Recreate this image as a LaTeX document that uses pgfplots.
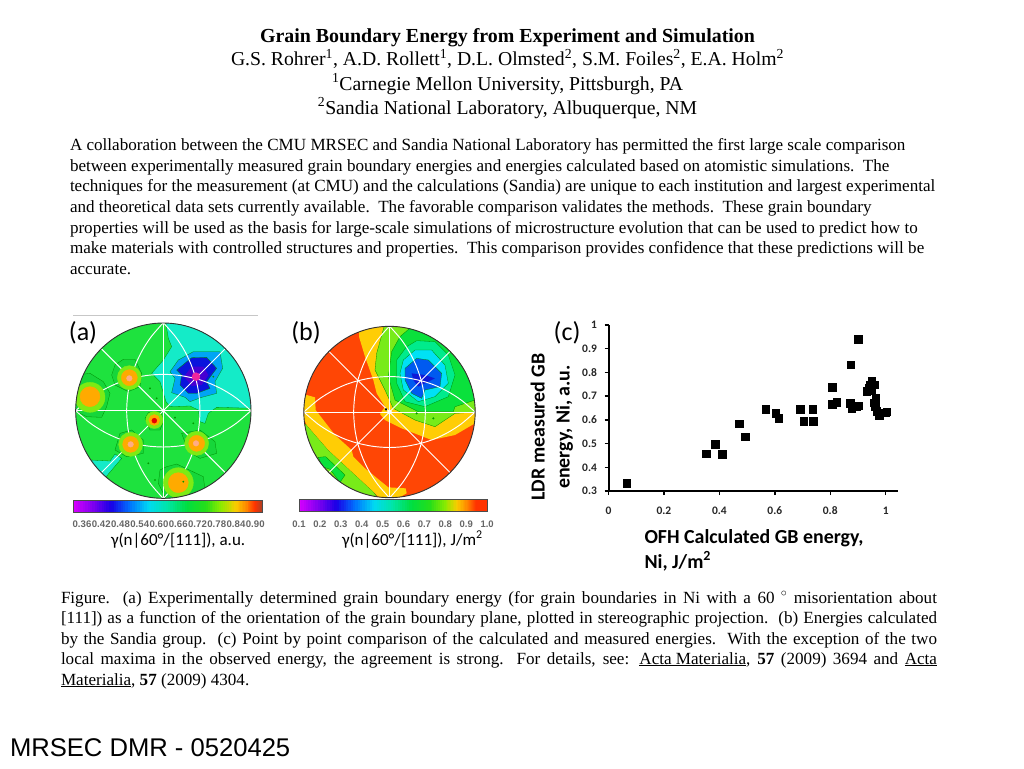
\documentclass[border=0pt]{standalone}
\usepackage{fontspec}
\usepackage{pgfplots}
\pgfplotsset{compat=1.18}
\setmainfont{Liberation Serif}
\newfontfamily\calf{Carlito}
\newfontfamily\arf{Liberation Sans}
\newcommand\fs[1]{\fontsize{#1pt}{#1pt}\selectfont}
\definecolor{gA}{RGB}{30,226,62}
\definecolor{gAd}{RGB}{22,214,58}
\definecolor{cyA}{RGB}{20,235,200}
\definecolor{blA}{RGB}{0,165,245}
\definecolor{dbA}{RGB}{10,20,220}
\definecolor{puA}{RGB}{70,0,210}
\definecolor{ygA}{RGB}{125,235,20}
\definecolor{yeA}{RGB}{225,235,0}
\definecolor{orA}{RGB}{255,170,0}
\definecolor{reB}{RGB}{255,70,5}
\definecolor{yeB}{RGB}{255,205,5}
\definecolor{ygB}{RGB}{120,235,25}
\definecolor{grB}{RGB}{10,225,60}
\definecolor{aqB}{RGB}{0,235,140}
\definecolor{cyB}{RGB}{0,225,245}
\definecolor{blB}{RGB}{0,90,240}
\definecolor{dbB}{RGB}{15,25,215}
% colourbar stops
\definecolor{s0}{RGB}{217,0,255}
\definecolor{s1}{RGB}{130,0,240}
\definecolor{s2}{RGB}{25,0,230}
\definecolor{s3}{RGB}{0,115,255}
\definecolor{s4}{RGB}{0,217,242}
\definecolor{s5}{RGB}{0,230,165}
\definecolor{s6}{RGB}{0,222,64}
\definecolor{s7}{RGB}{38,222,25}
\definecolor{s8}{RGB}{140,235,0}
\definecolor{s9}{RGB}{250,204,0}
\definecolor{s10}{RGB}{255,128,0}
\definecolor{s11}{RGB}{255,51,0}
\definecolor{s12}{RGB}{166,64,38}
\newcommand\barsegs[5]{% x0, width, ytop, ybottom, list
 \foreach \ca/\cb/\xa/\xb in {#5}{
  \foreach \k in {0,...,7}{
   \pgfmathsetmacro\pct{100-100*(\k+.5)/8}
   \pgfmathsetmacro\xl{#1+#2*(\xa+(\xb-\xa)*\k/8)}
   \pgfmathsetmacro\xr{#1+#2*(\xa+(\xb-\xa)*(\k+1)/8)+.25}
   \fill[\ca!\pct!\cb] (\xl,#3) rectangle (\xr,#4);
  }}}
\pgfplotsset{panel/.style={scale only axis,width=220pt,height=250pt,xmin=0,xmax=660,ymin=0,ymax=750,y dir=reverse,axis lines=none,clip=false,anchor=south west},
 cont/.style={draw=black!45!green,line width=.3pt},
 wl/.style={white,line width=.95pt},
 spot/.style={only marks,mark=*,color=#1}}
\begin{document}
\begin{tikzpicture}
\path (0pt,0pt) rectangle (1024pt,-768pt);
% ---------- text
\begin{scope}[x=1pt,y=-1pt,every node/.style={inner sep=0pt,outer sep=0pt}]
\node[anchor=base] at (507.5,42) {\fs{19.9}\bfseries Grain Boundary Energy from Experiment and Simulation};
\node[anchor=base] at (507.5,66) {\fs{19.7}G.S. Rohrer\textsuperscript{1}, A.D. Rollett\textsuperscript{1}, D.L. Olmsted\textsuperscript{2}, S.M. Foiles\textsuperscript{2}, E.A. Holm\textsuperscript{2}};
\node[anchor=base] at (507.5,90) {\fs{19.7}\textsuperscript{1}Carnegie Mellon University, Pittsburgh, PA};
\node[anchor=base] at (507.5,114) {\fs{19.7}\textsuperscript{2}Sandia National Laboratory, Albuquerque, NM};
\fs{17.08}
\node[anchor=base west] at (70,150) {A collaboration between the CMU MRSEC and Sandia National Laboratory has permitted the first large scale comparison};
\node[anchor=base west] at (70,171) {between experimentally measured grain boundary energies and energies calculated based on atomistic simulations.\ \ The};
\node[anchor=base west] at (70,191) {techniques for the measurement (at CMU) and the calculations (Sandia) are unique to each institution and largest experimental};
\node[anchor=base west] at (70,212) {and theoretical data sets currently available.\ \ The favorable comparison validates the methods.\ \ These grain boundary};
\node[anchor=base west] at (70,233) {properties will be used as the basis for large-scale simulations of microstructure evolution that can be used to predict how to};
\node[anchor=base west] at (70,253) {make materials with controlled structures and properties.\ \ This comparison provides confidence that these predictions will be};
\node[anchor=base west] at (70,274) {accurate.};
\node[anchor=base west] at (61,603) {\makebox[876pt][s]{Figure.\ \ (a) Experimentally determined grain boundary energy (for grain boundaries in Ni with a 60 $^\circ$ misorientation about}};
\node[anchor=base west] at (61,623) {\makebox[876pt][s]{[111]) as a function of the orientation of the grain boundary plane, plotted in stereographic projection.\ \ (b) Energies calculated}};
\node[anchor=base west] at (61,644) {\makebox[876pt][s]{by the Sandia group.\ \ (c) Point by point comparison of the calculated and measured energies.\ \ With the exception of the two}};
\node[anchor=base west] at (61,664) {\makebox[876pt][s]{local maxima in the observed energy, the agreement is strong.\ \ For details, see: \underline{Acta Materialia}, \textbf{57} (2009) 3694 and \underline{Acta}}};
\node[anchor=base west] at (61,685) {\underline{Materialia}, \textbf{57} (2009) 4304.};
\node[anchor=base west] at (10,756) {\arf\fs{25.6}MRSEC DMR - 0520425};
\node[anchor=base] at (83,340) {\calf\fs{26}(a)};
\node[anchor=base] at (306,340) {\calf\fs{26}(b)};
\node[anchor=base] at (567,340) {\calf\fs{26}(c)};
\node[anchor=base west] at (111,545) {\calf\fs{17}γ(n|60°/[111]), a.u.};
\node[anchor=base west] at (342,545) {\calf\fs{17}γ(n|60°/[111]), J/m\textsuperscript{2}};
\node[anchor=base west] at (644.5,543) {\calf\fs{19.9}\bfseries OFH Calculated GB energy,};
\node[anchor=base west] at (644.5,568) {\calf\fs{19.9}\bfseries Ni, J/m\textsuperscript{2}};
\node[rotate=90,anchor=base] at (544.5,427) {\calf\fs{19.9}\bfseries LDR measured GB};
\node[rotate=90,anchor=base] at (569.5,427) {\calf\fs{19.9}\bfseries energy, Ni, a.u.};
\draw[black!22,line width=.8pt] (73,315.5) -- (258,315.5);
% colourbars
\barsegs{73.3}{189.4}{500}{512.3}{s0/s1/0/.1,s1/s2/.1/.2,s2/s3/.2/.3,s3/s4/.3/.4,s4/s5/.4/.5,s5/s6/.5/.6,s6/s7/.6/.7,s7/s8/.7/.78,s8/s9/.78/.86,s9/s10/.86/.92,s10/s11/.92/.96,s11/s12/.96/1}
\draw[black!70,line width=.5pt] (73.3,500) rectangle (262.7,512.3);
\barsegs{299}{188}{499.3}{511.7}{s0/s1/0/.1,s1/s2/.1/.2,s2/s3/.2/.3,s3/s4/.3/.4,s4/s5/.4/.5,s5/s6/.5/.6,s6/s7/.6/.7,s7/s8/.7/.78,s8/s9/.78/.84,s9/s10/.84/.9,s10/s11/.9/.94,s11/s11/.94/1}
\draw[black!70,line width=.5pt] (299,499.3) rectangle (487,511.7);
\foreach \lb [count=\ii from 0] in {0.36,0.42,0.48,0.54,0.60,0.66,0.72,0.78,0.84,0.90}{
 \node[anchor=base,text=black!60] at (82+\ii*19.25,527.5) {\arf\fs{9.6}\bfseries \lb};}
\foreach \lb [count=\ii from 0] in {0.1,0.2,0.3,0.4,0.5,0.6,0.7,0.8,0.9,1.0}{
 \node[anchor=base,text=black!60] at (299+\ii*20.9,527) {\arf\fs{9.5}\bfseries \lb};}
\end{scope}
% ---------- panel (a)
\begin{scope}
\clip (163.33pt,-410.67pt) circle [radius=87.67pt];
\begin{axis}[panel,at={(60pt,-560pt)}]
\addplot[fill=gA,draw=none] coordinates {(0,0)(660,0)(660,620)(0,620)} -- cycle;
\addplot[fill=cyA,cont] coordinates {(316,30)(325,85)(335,110)(310,150)(275,190)(300,215)(318,275)(330,290)(390,288)(415,300)(420,335)(435,340)(445,310)(470,292)(590,295)(600,20)(330,20)} -- cycle;
\addplot[fill=cyA,cont] coordinates {(90,450)(150,453)(165,432)(185,445)(130,510)(90,500)} -- cycle;
\addplot[fill=blA,cont] coordinates {(400,125)(480,125)(488,175)(465,215)(470,250)(425,262)(390,275)(375,262)(335,248)(345,205)(330,185)(355,150)} -- cycle;
\addplot[fill=dbA,cont] coordinates {(395,143)(440,142)(470,175)(440,215)(450,235)(410,250)(385,250)(360,225)(365,195)(350,180)} -- cycle;
\addplot[fill=puA,draw=none] coordinates {(395,170)(430,170)(445,195)(425,225)(395,228)(372,200)} -- cycle;
\addplot[spot=magenta!85!white,mark size=4pt] coordinates {(408,200)};
% halos
\addplot[fill=gAd,cont] coordinates {(50,195)(90,190)(130,215)(150,250)(140,290)(125,322)(80,320)(40,300)(40,240)} -- cycle;
\addplot[fill=gAd,cont] coordinates {(165,165)(190,148)(225,148)(245,190)(240,230)(205,245)(165,225)(155,195)} -- cycle;
\addplot[fill=gAd,cont] coordinates {(320,470)(350,462)(430,500)(435,540)(400,570)(320,570)(295,520)(300,480)} -- cycle;
\addplot[fill=gAd,cont] coordinates {(180,370)(215,360)(250,390)(250,430)(200,440)(165,420)} -- cycle;
\addplot[fill=gAd,cont] coordinates {(365,370)(420,360)(465,395)(470,430)(420,445)(385,425)} -- cycle;
\addplot[fill=gAd,cont] coordinates {(255,325)(265,308)(300,305)(312,330)(300,360)(270,360)} -- cycle;
% hot spots
\addplot[spot=ygA,mark size=12pt] coordinates {(208,203)(212,403)(410,400)};
\addplot[spot=ygA,mark size=15pt] coordinates {(90,262)(355,518)};
\addplot[spot=ygA,mark size=8.5pt] coordinates {(283,330)};
\addplot[spot=orA,mark size=8pt] coordinates {(208,203)(212,403)(410,400)};
\addplot[spot=orA,mark size=10pt] coordinates {(90,260)(355,518)};
\addplot[spot=orA,mark size=5.5pt] coordinates {(283,330)};
\addplot[spot=red!90!black,mark size=2.5pt] coordinates {(283,332)};
\addplot[spot=orange!30!pink,mark size=2.8pt] coordinates {(208,205)(212,403)(408,400)};
% small dark specks
\addplot[spot=black!40!green,mark size=.7pt] coordinates {(270,235)(290,265)(345,323)(370,515)(265,460)(285,510)(400,340)(460,200)};
% white grid
\addplot[wl] coordinates {(310,38)(310,566)};
\addplot[wl] coordinates {(47,302)(573,302)};
\addplot[wl] coordinates {(124,116)(496,488)};
\addplot[wl] coordinates {(496,116)(124,488)};
\addplot[wl,smooth] coordinates {(47,302)(90,265.1)(130,239.5)(170,220.4)(210,206.7)(260,196.4)(310,193)(360,196.4)(410,206.7)(450,220.4)(490,239.5)(530,265.1)(573,302)};
\addplot[wl,smooth] coordinates {(47,302)(90,338.9)(130,364.5)(170,383.6)(210,397.3)(260,407.6)(310,411)(360,407.6)(410,397.3)(450,383.6)(490,364.5)(530,338.9)(573,302)};
\addplot[wl,smooth] coordinates {(310,38)(273.6,80)(247.6,120)(228.2,160)(213.4,203)(203.7,250)(200,302)(203.7,354)(213.4,401)(228.2,444)(247.6,484)(273.6,524)(310,566)};
\addplot[wl,smooth] coordinates {(310,38)(346.4,80)(372.4,120)(391.8,160)(406.6,203)(416.3,250)(420,302)(416.3,354)(406.6,401)(391.8,444)(372.4,484)(346.4,524)(310,566)};
\end{axis}
\end{scope}
\draw[black!80,line width=.9pt] (163.33pt,-410.67pt) circle [radius=87.67pt];
% ---------- panel (b)
\begin{scope}
\clip (389.5pt,-412pt) circle [radius=85.67pt];
\begin{axis}[panel,at={(285pt,-560pt)}]
\addplot[fill=reB,draw=none] coordinates {(0,0)(660,0)(660,620)(0,620)} -- cycle;
% yellow upper band
\addplot[fill=yeB,draw=none] coordinates {(222,80)(222,40)(600,40)(600,310)(570,340)(510,375)(440,390)(350,355)(300,330)(285,312)(300,290)(275,250)(265,210)(240,140)} -- cycle;
\addplot[fill=ygB,cont] coordinates {(300,40)(275,130)(270,180)(300,240)(325,295)(390,330)(450,350)(510,310)(600,305)(600,40)} -- cycle;
\addplot[fill=grB,cont] coordinates {(380,50)(345,80)(320,125)(310,200)(330,270)(400,305)(505,305)(510,290)(600,260)(600,40)} -- cycle;
\addplot[fill=aqB,cont] coordinates {(395,92)(450,95)(490,135)(510,195)(490,260)(420,290)(360,275)(335,220)(335,150)(365,110)} -- cycle;
\addplot[fill=cyB,cont] coordinates {(390,120)(440,120)(480,165)(490,220)(450,260)(400,275)(355,240)(345,190)(355,150)} -- cycle;
\addplot[fill=blB,cont] coordinates {(395,145)(430,150)(470,190)(465,230)(420,240)(410,265)(380,250)(360,210)(360,175)} -- cycle;
\addplot[fill=dbB,draw=none] coordinates {(380,190)(420,195)(450,205)(420,220)(400,230)(385,210)} -- cycle;
% lower-left bands
\addplot[fill=ygB,cont] coordinates {(40,330)(65,345)(130,420)(265,545)(290,580)(40,580)} -- cycle;
\addplot[fill=grB,cont] coordinates {(100,442)(122,440)(180,495)(165,517)(135,478)(112,470)} -- cycle;
\addplot[fill=yeB,draw=none] coordinates {(50,270)(65,255)(90,262)(92,300)(150,375)(200,420)(205,440)(240,475)(310,532)(362,535)(365,550)(320,575)(295,575)(265,545)(130,420)(65,345)(50,310)} -- cycle;
\addplot[spot=black!40!green,mark size=.8pt] coordinates {(395,310)(445,325)};
% white grid
\addplot[wl] coordinates {(313.5,47)(313.5,565)};
\addplot[wl] coordinates {(56,306)(571,306)};
\addplot[wl] coordinates {(131.5,124)(495.5,488)};
\addplot[wl] coordinates {(495.5,124)(131.5,488)};
\addplot[wl,smooth] coordinates {(56.5,306)(98.6,270)(137.6,245)(176.7,226)(215.8,213)(264.6,203)(313.5,199.5)(362.4,203)(411.2,213)(450.3,226)(489.4,245)(528.4,270)(570.5,306)};
\addplot[wl,smooth] coordinates {(56.5,306)(98.6,342)(137.6,367)(176.7,386)(215.8,399)(264.6,409)(313.5,412.5)(362.4,409)(411.2,399)(450.3,386)(489.4,367)(528.4,342)(570.5,306)};
\addplot[wl,smooth] coordinates {(313.5,48)(278,89)(252.5,128)(233.6,167)(219,209)(209.6,255)(206,306)(209.6,357)(219,403)(233.6,445)(252.5,484)(278,523)(313.5,564)};
\addplot[wl,smooth] coordinates {(313.5,48)(349,89)(374.5,128)(393.4,167)(408,209)(417.4,255)(421,306)(417.4,357)(408,403)(393.4,445)(374.5,484)(349,523)(313.5,564)};
\addplot[spot=white,mark size=2pt] coordinates {(313.5,306)};
\addplot[spot=black,mark size=.9pt] coordinates {(303,298)};
\end{axis}
\end{scope}
\draw[black!80,line width=.9pt] (389.5pt,-412pt) circle [radius=85.67pt];
% ---------- panel (c)
\begin{axis}[at={(608.5pt,-491pt)},anchor=south west,scale only axis,width=289.5pt,height=166pt,
 xmin=0,xmax=1.0445,ymin=0.3,ymax=1,
 axis x line=bottom,axis y line=left,axis line style={-,black,line width=2pt},
 xtick={0,0.2,0.4,0.6,0.8,1},ytick={0.3,0.4,0.5,0.6,0.7,0.8,0.9,1},
 xticklabels={0,0.2,0.4,0.6,0.8,1},yticklabels={0.3,0.4,0.5,0.6,0.7,0.8,0.9,1},
 tick style={black,line width=1.4pt},major tick length=4pt,
 tick align=outside,
 xticklabel style={yshift=-8pt,font=\calf\fs{11.5}\bfseries,text=black!85,text height=7.5pt,text depth=0pt},
 yticklabel style={xshift=-4pt,font=\calf\fs{11.5}\bfseries,text=black!85,text height=7.5pt,text depth=0pt},
 /pgf/number format/assume math mode=true,clip=false]
\addplot[only marks,mark=square*,mark size=3.8pt,color=black] coordinates {
(.066,.332)(.352,.457)(.386,.498)(.41,.455)(.472,.583)(.493,.529)(.567,.644)(.603,.628)(.614,.608)
(.691,.646)(.704,.594)(.736,.644)(.739,.594)(.808,.739)(.808,.665)(.823,.675)(.874,.833)(.901,.941)
(.873,.671)(.877,.647)(.895,.658)(.900,.660)(.932,.722)(.941,.733)(.943,.747)(.95,.765)(.958,.748)
(.947,.726)(.964,.691)(.959,.672)(.962,.656)(.968,.637)(.976,.619)(.999,.63)(1.004,.634)};
\end{axis}
\end{tikzpicture}
\end{document}
